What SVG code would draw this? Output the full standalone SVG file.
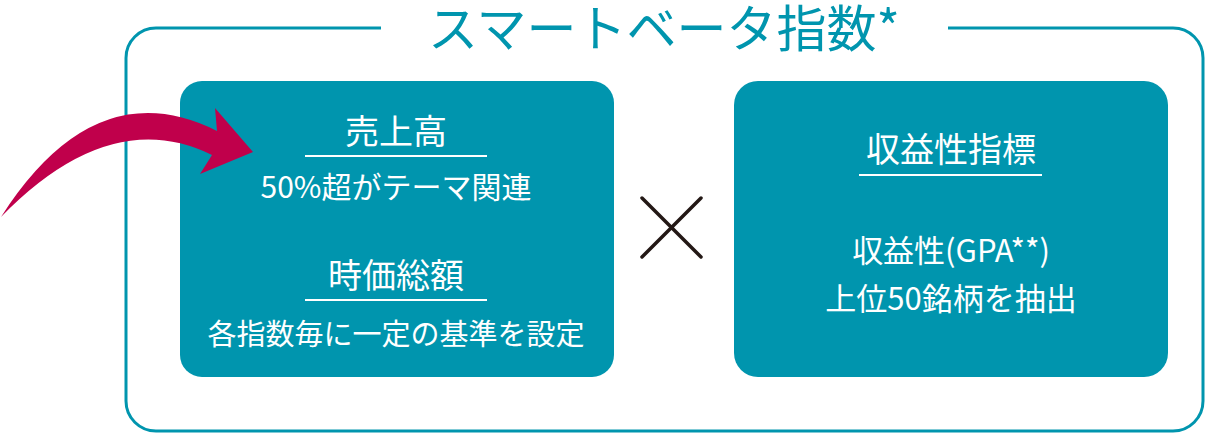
<svg xmlns="http://www.w3.org/2000/svg" width="1207" height="435" viewBox="0 0 1207 435">
<style>
.frame{fill:none;stroke:#0095ae;stroke-width:3}
.box{fill:#0095ae}
.t{font-family:"Noto Sans CJK JP","Noto Sans",sans-serif;fill:#fff;text-anchor:middle}
.h{font-size:34px}
.s{font-size:29px}
.s2{font-size:30px}
.r{font-size:31px}
.ul{stroke:#fff;stroke-width:2}
.title{font-family:"Noto Sans CJK JP","Noto Sans",sans-serif;font-size:50px;fill:#0095ae;text-anchor:middle}
</style>
<rect width="1207" height="435" fill="#fff"/>
<g id="frame">
<path class="frame" d="M381,28 H156 A30,30 0 0 0 126,58 V401 A30,30 0 0 0 156,431 H1173 A30,30 0 0 0 1203,401 V58 A30,30 0 0 0 1173,28 H948"/>
<text class="title" x="664" y="47">スマートベータ指数*</text>
</g>
<g id="left-box">
<rect class="box" x="180" y="81" width="434" height="296" rx="22"/>
<text class="t h" x="396" y="144">売上高</text>
<line class="ul" x1="305" y1="156" x2="487" y2="156"/>
<text class="t s2" x="396" y="198">50%超がテーマ関連</text>
<text class="t h" x="396" y="288">時価総額</text>
<line class="ul" x1="305" y1="300" x2="487" y2="300"/>
<text class="t s" x="396" y="345">各指数毎に一定の基準を設定</text>
</g>
<g id="times">
<path d="M642,198 L701,257 M701,198 L642,257" stroke="#231815" stroke-width="3.5" stroke-linecap="round"/>
</g>
<g id="right-box">
<rect class="box" x="734" y="81" width="434" height="296" rx="24"/>
<text class="t h" x="951" y="162">収益性指標</text>
<line class="ul" x1="859" y1="175" x2="1042" y2="175"/>
<text class="t r" x="951" y="262">収益性(GPA**)</text>
<text class="t r" x="951" y="310">上位50銘柄を抽出</text>
</g>
<g id="connectors">
<path d="M1,217 Q95,70 217,131 L215,108 L253,152 L200,174 L212,155 Q110,105 1,217 Z" fill="#c0004b"/>
</g>
</svg>
